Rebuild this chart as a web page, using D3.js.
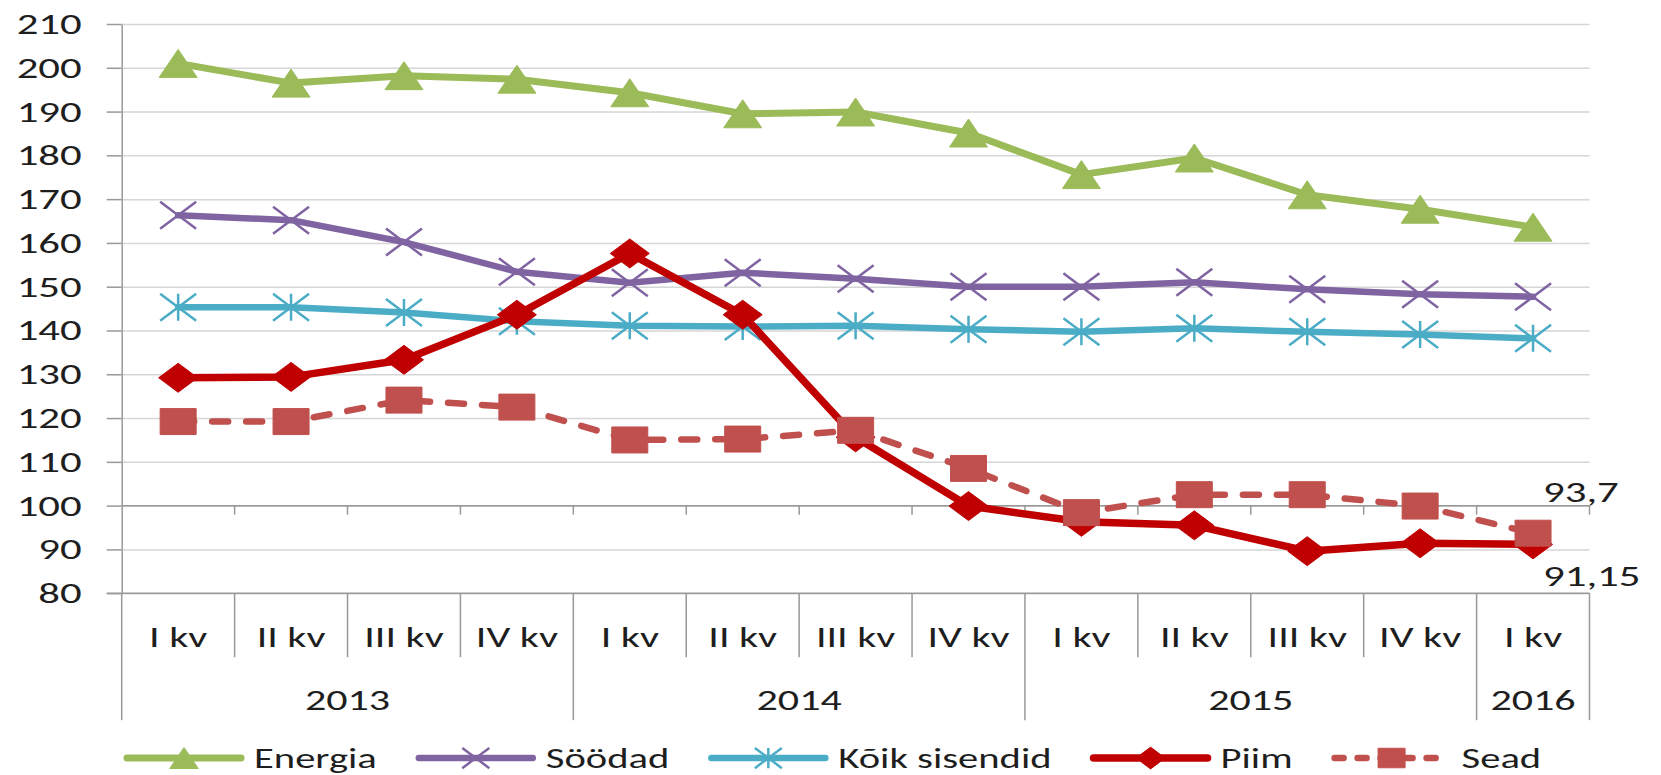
<!DOCTYPE html>
<html>
<head>
<meta charset="utf-8">
<script src="https://cdn.jsdelivr.net/npm/d3@7"></script>
<style>
  body { margin: 0; background: #fff; }
  svg { display: block; }
</style>
</head>
<body>
<div id="container"></div>
<script>
/* DATA */
const quarters = ["I kv", "II kv", "III kv", "IV kv", "I kv", "II kv", "III kv", "IV kv", "I kv", "II kv", "III kv", "IV kv", "I kv"];
const years = ["2013", "2014", "2015", "2016"];
const quartersPerYear = [4, 4, 4, 1];
const yTicks = [80, 90, 100, 110, 120, 130, 140, 150, 160, 170, 180, 190, 200, 210];

const energia = [201.0, 196.5, 198.2, 197.4, 194.3, 189.5, 189.9, 185.1, 175.6, 179.4, 171.0, 167.7, 163.6];
const soodad  = [166.3, 165.2, 160.2, 153.4, 150.9, 153.2, 151.8, 150.0, 150.0, 151.0, 149.4, 148.3, 147.7];
const koik    = [145.3, 145.3, 144.1, 142.1, 141.1, 140.9, 141.1, 140.3, 139.7, 140.5, 139.7, 139.1, 138.2];
const piim    = [129.2, 129.4, 133.3, 143.6, 157.6, 143.6, 115.6, 99.9, 96.3, 95.5, 89.6, 91.4, 91.15];
const sead    = [119.2, 119.2, 124.1, 122.5, 115.0, 115.2, 117.2, 108.5, 98.4, 102.5, 102.5, 99.9, 93.7];

const seriesNames = ["Energia", "Söödad", "Kõik sisendid", "Piim", "Sead"];

/* CONSTANTS */
const width = 1661, height = 775;
const margin = { top: 24, left: 121.7, right: 71.5, bottom: 182 };
const SX = 1.45;            // horizontal stretch of the original picture
const FONT = "Carlito, Lato, 'Open Sans', sans-serif";
const gridColor = "#d6d6d6", axisColor = "#999999", textColor = "#1e1e1e";

const series = [
  { name: seriesNames[0], values: energia, color: "#9BBB59", marker: "tri",     lw: 7 },
  { name: seriesNames[1], values: soodad,  color: "#8064A2", marker: "cross",   lw: 6.5 },
  { name: seriesNames[2], values: koik,    color: "#4BACC6", marker: "star",    lw: 6.5 },
  { name: seriesNames[3], values: piim,    color: "#C00000", marker: "diamond", lw: 7.5 },
  { name: seriesNames[4], values: sead,    color: "#C0504D", marker: "square",  lw: 6.5, dash: "16,18" }
];

/* SCALES */
const xScale = d3.scaleBand()
  .domain(d3.range(quarters.length))
  .range([margin.left, width - margin.right]);
const xc = i => xScale(i) + xScale.bandwidth() / 2;

const yScale = d3.scaleLinear()
  .domain([80, 210])
  .range([height - margin.bottom + 0.2, margin.top]);

const svg = d3.select("#container").append("svg")
  .attr("width", width)
  .attr("height", height)
  .style("font-family", FONT);

// stretched text helper
function label(g, x, y, str, size, anchor) {
  return g.append("text")
    .attr("transform", `translate(${x},${y}) scale(${SX},1)`)
    .attr("text-anchor", anchor || "middle")
    .attr("font-size", size)
    .attr("fill", textColor)
    .text(str);
}

// GRIDLINES
svg.append("g")
  .attr("transform", `translate(${margin.left},0)`)
  .call(d3.axisLeft(yScale).tickValues(yTicks).tickSize(-(width - margin.left - margin.right)).tickFormat(""))
  .call(g => g.select(".domain").remove())
  .call(g => g.selectAll("line").attr("stroke", gridColor).attr("stroke-width", 1.5));

// Y AXIS
const yAxisG = svg.append("g")
  .attr("transform", `translate(${margin.left},0)`)
  .call(d3.axisLeft(yScale).tickValues(yTicks).tickSize(15).tickSizeOuter(0).tickFormat(d3.format("d")));
yAxisG.select(".domain").attr("stroke", axisColor).attr("stroke-width", 1.5);
yAxisG.selectAll(".tick line").attr("stroke", axisColor).attr("stroke-width", 1.5);
yAxisG.selectAll(".tick text")
  .attr("x", null).attr("dy", null)
  .attr("text-anchor", "end")
  .attr("transform", `translate(-40,9.5) scale(${SX},1)`)
  .attr("font-family", FONT)
  .attr("font-size", 29.5)
  .attr("fill", textColor);

// HORIZONTAL AXIS AT 100 (with tick marks)
const y100 = yScale(100);
const edge = i => i < quarters.length ? xScale(i) : width - margin.right;
const axis100 = svg.append("g");
axis100.append("line")
  .attr("x1", margin.left).attr("x2", width - margin.right)
  .attr("y1", y100).attr("y2", y100)
  .attr("stroke", axisColor).attr("stroke-width", 1.5);
axis100.selectAll("line.t")
  .data(d3.range(1, quarters.length + 1))
  .join("line")
  .attr("class", "t")
  .attr("x1", edge).attr("x2", edge)
  .attr("y1", y100).attr("y2", y100 + 9)
  .attr("stroke", axisColor).attr("stroke-width", 1.5);

// CATEGORY AXIS (two levels)
const yBase = yScale(80);
const catG = svg.append("g");
catG.append("line")
  .attr("x1", margin.left - 15).attr("x2", width - margin.right)
  .attr("y1", yBase).attr("y2", yBase)
  .attr("stroke", axisColor).attr("stroke-width", 1.5);

const yearStart = [];
quartersPerYear.reduce((acc, n) => { yearStart.push(acc); return acc + n; }, 0);
const yearEdges = yearStart.concat([quarters.length]);

catG.selectAll("line.sep")
  .data(d3.range(0, quarters.length + 1))
  .join("line")
  .attr("class", "sep")
  .attr("x1", edge).attr("x2", edge)
  .attr("y1", yBase)
  .attr("y2", i => yearEdges.includes(i) ? yBase + 127 : yBase + 64)
  .attr("stroke", axisColor).attr("stroke-width", 1.5);

quarters.forEach((q, i) => label(catG, xc(i), yBase + 54, q, 29));
years.forEach((yr, k) => {
  const x0 = edge(yearStart[k]), x1 = edge(yearStart[k] + quartersPerYear[k]);
  label(catG, (x0 + x1) / 2, yBase + 117, yr, 29);
});

// MARKER PATHS
function markerPath(type, w, h) {
  switch (type) {
    case "tri": return `M0,${-h / 2}L${w / 2},${h / 2}L${-w / 2},${h / 2}Z`;
    case "diamond": return `M0,${-h / 2}L${w / 2},0L0,${h / 2}L${-w / 2},0Z`;
    case "square": return `M${-w / 2},${-h / 2}H${w / 2}V${h / 2}H${-w / 2}Z`;
    case "cross": return `M${-w / 2},${-h / 2}L${w / 2},${h / 2}M${-w / 2},${h / 2}L${w / 2},${-h / 2}`;
    case "star": return `M${-w / 2},${-h / 2}L${w / 2},${h / 2}M${-w / 2},${h / 2}L${w / 2},${-h / 2}M0,${-h / 2}V${h / 2}`;
  }
}
const markerSize = { tri: [38, 28], diamond: [39, 29], square: [36, 26], cross: [36, 27], star: [36, 27] };

function drawMarker(g, s, x, y, k) {
  const [w, h] = markerSize[s.marker];
  const open = s.marker === "cross" || s.marker === "star";
  g.append("path")
    .attr("transform", `translate(${x},${y})`)
    .attr("d", markerPath(s.marker, w * k, h * k))
    .attr("fill", open ? "none" : s.color)
    .attr("stroke", s.color)
    .attr("stroke-width", open ? 2.5 : 1)
    .attr("stroke-linejoin", "round");
}

// LINES
const lineGen = d3.line()
  .x((d, i) => xc(i))
  .y(d => yScale(d));

series.forEach(s => {
  const g = svg.append("g").attr("class", "series");
  g.append("path")
    .datum(s.values)
    .attr("d", lineGen)
    .attr("fill", "none")
    .attr("stroke", s.color)
    .attr("stroke-width", s.lw)
    .attr("stroke-linejoin", "round")
    .attr("stroke-linecap", "round")
    .attr("stroke-dasharray", s.dash || null);
  s.values.forEach((v, i) => drawMarker(g, s, xc(i), yScale(v), 1));
});

// DATA LABELS (last points of Sead and Piim)
const fmt = v => String(v).replace(".", ",");
const last = quarters.length - 1;
label(svg, xc(last) + 10, yScale(sead[last]) - 31, fmt(sead[last]), 29.5, "start");
label(svg, xc(last) + 10, yScale(piim[last]) + 42, fmt(piim[last]), 29.5, "start");

// LEGEND
const legendG = svg.append("g");
let lx = 125;
const ly = 758;
series.forEach(s => {
  legendG.append("line")
    .attr("x1", lx + 2).attr("x2", lx + 116)
    .attr("y1", ly).attr("y2", ly)
    .attr("stroke", s.color)
    .attr("stroke-width", s.lw)
    .attr("stroke-linecap", "round")
    .attr("stroke-dasharray", s.dash ? "9,14" : null);
  drawMarker(legendG, s, lx + 59, ly, 0.75);
  const t = label(legendG, lx + 129, ly + 10, s.name, 28, "start");
  lx += 129 + t.node().getComputedTextLength() * SX + 40;
});
</script>
</body>
</html>
